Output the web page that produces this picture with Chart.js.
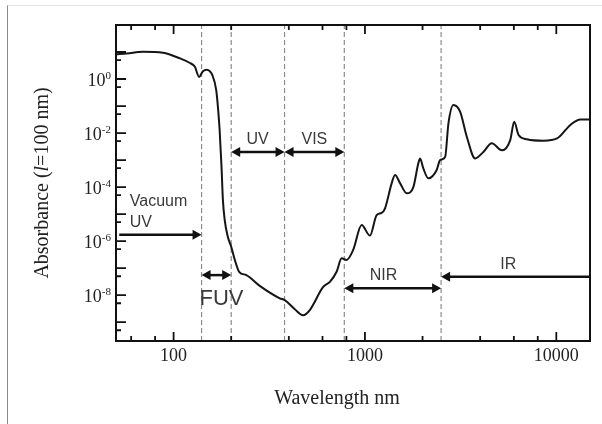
<!DOCTYPE html>
<html>
<head>
<meta charset="utf-8">
<script src="https://cdn.jsdelivr.net/npm/chart.js@4"></script>
<style>
  html, body { margin: 0; padding: 0; background: #fff; }
  #wrap { position: relative; width: 602px; height: 424px; }
  #frame { position: absolute; left: 7px; top: 5px; width: 595px; height: 419px;
           border-top: 1px solid #e4e4e4; border-left: 1px solid #8a8a8a; pointer-events: none; }
</style>
</head>
<body>
<div id="wrap">
  <canvas id="chart" width="602" height="424"></canvas>
  <div id="frame"></div>
</div>
<script>
// 데이터
const wavelengths = [50, 57, 69, 88, 108, 121, 129, 136, 142, 149, 160, 167, 171, 174, 178, 181, 185, 192, 200, 209, 220, 240, 282, 359, 381, 430, 475, 515, 605, 656, 711, 755, 802, 868, 961, 1062, 1151, 1222, 1272, 1380, 1436, 1525, 1653, 1790, 1901, 1941, 2019, 2143, 2371, 2470, 2624, 2731, 2898, 3142, 3406, 3764, 4159, 4600, 5197, 5745, 6026, 6350, 7027, 8590, 10090, 11840, 13360, 15000];
const absorbance = [8.2, 8.8, 10.3, 9.4, 5.8, 4.0, 2.9, 1.2, 1.9, 2.2, 1.3, 0.39, 0.071, 0.013, 5.6e-4, 3.3e-5, 6.0e-6, 1.44e-6, 6.2e-7, 2.0e-7, 7.3e-8, 5.5e-8, 2.2e-8, 7.6e-9, 6.5e-9, 3.0e-9, 1.8e-9, 2.8e-9, 2.0e-8, 3.1e-8, 7.3e-8, 2.3e-7, 2.0e-7, 4.7e-7, 3.9e-6, 1.6e-6, 9.2e-6, 1.1e-5, 1.6e-5, 1.4e-4, 2.8e-4, 1.4e-4, 5.9e-5, 1.0e-4, 7.6e-4, 1.15e-3, 4.9e-4, 2.1e-4, 4.3e-4, 1.0e-3, 1.3e-3, 0.023, 0.109, 0.062, 7.3e-3, 1.15e-3, 2.0e-3, 4.2e-3, 2.3e-3, 5.5e-3, 0.026, 8.5e-3, 5.9e-3, 5.2e-3, 6.3e-3, 0.020, 0.032, 0.032];

// 영역 경계 (nm)
const boundaries = [140, 200, 380, 780, 2500];

// 눈금
const xLabelTicks = [100, 1000, 10000];
const xMinorTicks = [60, 80, 200, 400, 600, 800, 2000, 4000, 6000, 8000];
const yLabelExps = [0, -2, -4, -6, -8];
const yMajorExps = [1, 0, -1, -2, -3, -4, -5, -6, -7, -8, -9];
const yMinorExps = [1, 0, -1, -2, -3, -4, -5, -6, -7, -8, -9]; // 5 x 10^(n-1)

// 영역 화살표: [시작, 끝, y값, 시작쪽 화살촉, 끝쪽 화살촉]
const regionArrows = [
  [52, 140, 1.7e-6, false, true],
  [140, 200, 5.5e-8, true, true],
  [200, 380, 2.0e-3, true, true],
  [380, 780, 2.0e-3, true, true],
  [780, 2500, 1.8e-8, true, true],
  [2500, 15000, 4.8e-8, true, false]
];
// 영역 라벨: [텍스트, x값, y값, 글자크기, 정렬]
const regionLabels = [
  ['Vacuum', 59, 2.8e-5, 16, 'left'],
  ['UV', 59, 5.0e-6, 16, 'left'],
  ['FUV', 178, 7e-9, 22, 'center'],
  ['UV', 275, 5.5e-3, 16, 'center'],
  ['VIS', 544, 5.5e-3, 16, 'center'],
  ['NIR', 1250, 5.5e-8, 16, 'center'],
  ['IR', 5610, 1.4e-7, 16, 'center']
];

const xMin = 50, xMax = 15000, yMin = 2e-10, yMax = 100;
const serif = '"Liberation Serif", "Times New Roman", serif';
const sans = '"Liberation Sans", Arial, sans-serif';

const datasets = [{
  data: wavelengths.map((w, i) => ({ x: w, y: absorbance[i] })),
  borderColor: '#151515',
  borderWidth: 2,
  pointRadius: 0,
  cubicInterpolationMode: 'monotone',
  order: 0
}];
boundaries.forEach(b => {
  datasets.push({
    data: [{ x: b, y: yMin }, { x: b, y: yMax }],
    borderColor: '#8c8c8c',
    borderWidth: 1.2,
    borderDash: [5, 3],
    pointRadius: 0,
    order: 1
  });
});

const decorPlugin = {
  id: 'decor',
  afterDatasetsDraw(chart) {
    const { ctx, chartArea: a, scales: { x, y } } = chart;
    ctx.save();

    // 테두리
    ctx.strokeStyle = '#111';
    ctx.lineWidth = 2;
    ctx.strokeRect(a.left, a.top, a.right - a.left, a.bottom - a.top);

    // 안쪽 눈금
    ctx.lineWidth = 1.8;
    ctx.beginPath();
    const xTick = (v, len) => {
      const px = x.getPixelForValue(v);
      ctx.moveTo(px, a.bottom); ctx.lineTo(px, a.bottom - len);
      ctx.moveTo(px, a.top); ctx.lineTo(px, a.top + len);
    };
    xLabelTicks.forEach(v => xTick(v, 9));
    xMinorTicks.forEach(v => xTick(v, 5));
    const yTick = (v, len) => {
      const py = y.getPixelForValue(v);
      ctx.moveTo(a.left, py); ctx.lineTo(a.left + len, py);
    };
    yMajorExps.forEach(e => yTick(Math.pow(10, e), 10));
    yMinorExps.forEach(e => yTick(5 * Math.pow(10, e - 1), 5));
    ctx.stroke();

    // y 눈금 라벨 (위첨자)
    ctx.fillStyle = '#222';
    ctx.textBaseline = 'alphabetic';
    yLabelExps.forEach(e => {
      const py = y.getPixelForValue(Math.pow(10, e));
      const sup = e === 0 ? '0' : '-' + Math.abs(e);
      ctx.font = '11px ' + serif;
      const wSup = ctx.measureText(sup).width;
      ctx.font = '18px ' + serif;
      const wBase = ctx.measureText('10').width;
      const right = a.left - 5;
      ctx.textAlign = 'left';
      ctx.fillText('10', right - wSup - wBase, py + 7);
      ctx.font = '11px ' + serif;
      ctx.fillText(sup, right - wSup, py);
    });

    // 화살표
    ctx.fillStyle = '#111';
    ctx.strokeStyle = '#111';
    ctx.lineWidth = 2.5;
    regionArrows.forEach(([x1, x2, yv, h1, h2]) => {
      const p1 = x.getPixelForValue(x1), p2 = x.getPixelForValue(x2);
      const py = y.getPixelForValue(yv);
      const hl = 9, hw = 5;
      ctx.beginPath();
      ctx.moveTo(h1 ? p1 + hl - 1 : p1, py);
      ctx.lineTo(h2 ? p2 - hl + 1 : p2, py);
      ctx.stroke();
      if (h1) {
        ctx.beginPath();
        ctx.moveTo(p1, py); ctx.lineTo(p1 + hl, py - hw); ctx.lineTo(p1 + hl, py + hw);
        ctx.closePath(); ctx.fill();
      }
      if (h2) {
        ctx.beginPath();
        ctx.moveTo(p2, py); ctx.lineTo(p2 - hl, py - hw); ctx.lineTo(p2 - hl, py + hw);
        ctx.closePath(); ctx.fill();
      }
    });

    // 영역 라벨
    ctx.fillStyle = '#3a3a3a';
    ctx.textBaseline = 'middle';
    regionLabels.forEach(([t, xv, yv, size, align]) => {
      ctx.font = size + 'px ' + sans;
      ctx.textAlign = align;
      ctx.fillText(t, x.getPixelForValue(xv), y.getPixelForValue(yv));
    });

    // 축 제목
    ctx.fillStyle = '#222';
    ctx.font = '20px ' + serif;
    ctx.textAlign = 'center';
    ctx.fillText('Wavelength nm', 337, 399);

    const parts = [['Absorbance (', '20px ' + serif], ['l', 'italic 20px ' + serif], ['=100 nm)', '20px ' + serif]];
    let total = 0;
    parts.forEach(([t, f]) => { ctx.font = f; total += ctx.measureText(t).width; });
    ctx.translate(43, (a.top + a.bottom) / 2);
    ctx.rotate(-Math.PI / 2);
    ctx.textAlign = 'left';
    let cx = -total / 2;
    parts.forEach(([t, f]) => {
      ctx.font = f;
      ctx.fillText(t, cx, 0);
      cx += ctx.measureText(t).width;
    });
    ctx.restore();
  }
};

new Chart(document.getElementById('chart'), {
  type: 'line',
  data: { datasets },
  options: {
    responsive: false,
    animation: false,
    layout: { padding: { top: 25, right: 12, left: 0, bottom: 0 } },
    plugins: { legend: { display: false }, tooltip: { enabled: false } },
    scales: {
      x: {
        type: 'logarithmic',
        min: xMin,
        max: xMax,
        afterBuildTicks: s => { s.ticks = xLabelTicks.map(v => ({ value: v })); },
        afterFit: s => { s.height = 83; },
        ticks: {
          color: '#222',
          font: { family: serif, size: 18 },
          padding: 4,
          maxRotation: 0,
          callback: v => String(v)
        },
        grid: { drawOnChartArea: false, drawTicks: false },
        border: { color: '#111', width: 2 }
      },
      y: {
        type: 'logarithmic',
        min: yMin,
        max: yMax,
        afterBuildTicks: s => { s.ticks = yLabelExps.map(e => ({ value: Math.pow(10, e) })); },
        afterFit: s => { s.width = 116; },
        ticks: { display: false },
        grid: { drawOnChartArea: false, drawTicks: false },
        border: { color: '#111', width: 2 }
      }
    }
  },
  plugins: [decorPlugin]
});
</script>
</body>
</html>
